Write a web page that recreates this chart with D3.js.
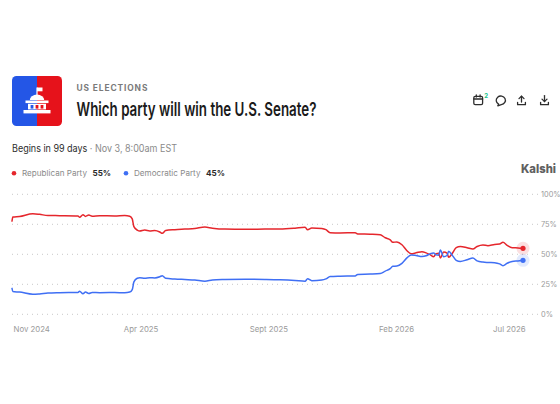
<!DOCTYPE html>
<html>
<head>
<meta charset="utf-8">
<script src="https://cdn.jsdelivr.net/npm/d3@7"></script>
<style>
  html, body { margin: 0; padding: 0; background: #fff; }
  svg { display: block; }
  text { font-family: Inter, "Noto Sans", sans-serif; }
</style>
</head>
<body>
<svg id="chart" width="560" height="404"></svg>
<script>
// ---------------- DATA ----------------
const dates = [
  "2024-10-29","2024-10-30","2024-11-07","2024-11-23","2024-12-01","2024-12-11","2024-12-25","2025-01-16","2025-01-18","2025-01-22",
  "2025-01-25","2025-01-29","2025-02-02","2025-02-11","2025-03-01","2025-03-13","2025-03-19","2025-03-22","2025-03-24","2025-03-28",
  "2025-03-31","2025-04-06","2025-04-12","2025-04-18","2025-04-24","2025-04-27","2025-05-01","2025-05-12","2025-05-24","2025-06-05",
  "2025-06-17","2025-06-26","2025-07-11","2025-08-04","2025-08-28","2025-09-15","2025-10-03","2025-10-15","2025-10-18","2025-10-23",
  "2025-11-04","2025-11-09","2025-11-14","2025-11-26","2025-12-14","2025-12-17","2026-01-01","2026-01-13","2026-01-19","2026-01-25",
  "2026-01-28","2026-02-02","2026-02-08","2026-02-14","2026-02-19","2026-02-25","2026-03-04","2026-03-09","2026-03-14","2026-03-18",
  "2026-03-21","2026-03-24","2026-03-26","2026-03-30","2026-04-03","2026-04-05","2026-04-09","2026-04-14","2026-04-19","2026-04-27",
  "2026-05-04","2026-05-09","2026-05-16","2026-05-22","2026-05-30","2026-06-05","2026-06-09","2026-06-14","2026-06-20","2026-06-27",
  "2026-07-03"
];
const republican = [
  77.7,81,81.5,83.8,83.3,82.3,82.2,82.0,80.8,83.0,
  81.6,82.7,81.8,82.2,82.0,82.3,81.7,79.5,73,70.2,
  69.4,70.2,69.5,69.8,68.6,67.5,69.8,70.5,71,71.5,
  72.7,71.8,71,70.8,71,71.1,71.8,72.5,70.5,72,
  71.5,70.5,68,67.8,68,67,66.7,66.2,63.8,62,
  60,60.3,58,53,50.5,51.2,52.2,51.2,49.5,48,
  50.5,50.8,47,52,51,47.5,50.5,55.5,56.5,55.5,
  54.4,56.5,57.8,57.2,58.2,58.5,60,57.5,55.5,55.3,
  55
];
const democratic = [
  21.6,19,18.5,16.7,17,17.7,18,18.2,19.3,17.2,
  18.5,17.4,18.2,18,18.1,18,18.5,20.5,27,30,
  30.5,30,30.5,30.3,31.3,32.2,30,29.4,29,28.6,
  27.6,28.5,29,29.3,29.1,28.8,28.2,27.6,29.6,28,
  28.5,29.5,31.5,31.8,32,33.2,33.5,34,36,38,
  40,40.2,42.5,47,49.5,49,48.2,48.8,50.5,51,
  49.5,49.2,53.5,48,49,52.5,49.5,45,44,45.5,
  47,44.5,43.5,43.2,43,42,40.5,42.5,44,44.5,
  45
];
const seriesNames = ["Republican Party", "Democratic Party"];
const seriesColors = ["#e5262c", "#3f6ff4"];
const currentValues = ["55%", "45%"];
const xTickDates = ["2024-11-01","2025-04-01","2025-09-01","2026-02-01","2026-07-01"];
const xTickLabels = ["Nov 2024","Apr 2025","Sept 2025","Feb 2026","Jul 2026"];
const yTicks = [0, 25, 50, 75, 100];

// ---------------- SETUP ----------------
const parse = d3.utcParse("%Y-%m-%d");
const svg = d3.select("#chart");
svg.append("rect").attr("width", 560).attr("height", 404).attr("fill", "#fff");

const x = d3.scaleUtc()
  .domain(d3.extent(dates, parse))
  .range([12, 523]);
const y = d3.scaleLinear().domain([0, 100]).range([314.3, 194.3]);

// ---------------- HEADER ----------------
const icon = svg.append("g").attr("transform", "translate(12,76)");
const clipId = "iconclip";
icon.append("clipPath").attr("id", clipId)
  .append("rect").attr("width", 50).attr("height", 50).attr("rx", 4.5);
const ig = icon.append("g").attr("clip-path", `url(#${clipId})`);
ig.append("rect").attr("x", 0).attr("y", 0).attr("width", 25).attr("height", 50).attr("fill", "#2456e6");
ig.append("rect").attr("x", 25).attr("y", 0).attr("width", 25).attr("height", 50).attr("fill", "#e6121b");
// capitol building
const cap = icon.append("g").attr("fill", "#fff");
cap.append("rect").attr("x", 24.4).attr("y", 11.5).attr("width", 1.2).attr("height", 8);
cap.append("rect").attr("x", 25).attr("y", 11.5).attr("width", 5.5).attr("height", 3.8);
cap.append("path").attr("d", "M17.8,24 A7.2,5.4 0 0,1 32.2,24 Z");
cap.append("rect").attr("x", 13.5).attr("y", 24.5).attr("width", 23).attr("height", 2.6);
cap.append("rect").attr("x", 16).attr("y", 27.8).attr("width", 18).attr("height", 5.6);
cap.append("rect").attr("x", 11.5).attr("y", 34).attr("width", 27).attr("height", 3.4);
const win = icon.append("g");
[18.6, 23.6, 28.6].forEach((wx, i) => {
  win.append("rect").attr("x", wx).attr("y", 29).attr("width", 2.8).attr("height", 3.6)
    .attr("fill", wx + 1.4 < 25 ? "#2456e6" : "#e6121b");
});

svg.append("text").attr("x", 76.5).attr("y", 90.8)
  .attr("font-size", 8.4).attr("font-weight", 700).attr("letter-spacing", 0.9)
  .attr("fill", "#7a7a7a").text("US ELECTIONS");

svg.append("text").attr("x", 76.5).attr("y", 115.5)
  .attr("font-size", 19).attr("font-weight", 600).attr("fill", "#1b1b1b")
  .attr("textLength", 240).attr("lengthAdjust", "spacingAndGlyphs")
  .text("Which party will win the U.S. Senate?");

// top-right icons
const ic = svg.append("g").attr("fill", "none").attr("stroke", "#2d2d2d")
  .attr("stroke-width", 1.3).attr("stroke-linecap", "round").attr("stroke-linejoin", "round");
ic.append("rect").attr("x", 473.8).attr("y", 96.3).attr("width", 8.8).attr("height", 8.4).attr("rx", 1.4);
ic.append("line").attr("x1", 473.8).attr("x2", 482.6).attr("y1", 99).attr("y2", 99);
ic.append("line").attr("x1", 476.3).attr("x2", 476.3).attr("y1", 95).attr("y2", 97);
ic.append("line").attr("x1", 480.1).attr("x2", 480.1).attr("y1", 95).attr("y2", 97);
svg.append("text").attr("x", 484.2).attr("y", 97.5).attr("font-size", 6).attr("font-weight", 700)
  .attr("fill", "#19c28b").text("2");
ic.append("path").attr("d", "M498.6,104.1 A4.6,4.3 0 1,1 501.3,104.6 L497.8,105.8 Z");
ic.append("line").attr("x1", 521.5).attr("x2", 521.5).attr("y1", 96.2).attr("y2", 102);
ic.append("polyline").attr("points", "519,98.6 521.5,96.1 524,98.6");
ic.append("polyline").attr("points", "517.6,102.3 517.6,104.7 525.4,104.7 525.4,102.3");
ic.append("line").attr("x1", 544.5).attr("x2", 544.5).attr("y1", 95.6).attr("y2", 101.6);
ic.append("polyline").attr("points", "542,99.1 544.5,101.6 547,99.1");
ic.append("polyline").attr("points", "540.6,102.3 540.6,104.7 548.4,104.7 548.4,102.3");

// subtitle
const sub = svg.append("text").attr("x", 12).attr("y", 151.8).attr("font-size", 9.8)
  .attr("textLength", 165).attr("lengthAdjust", "spacingAndGlyphs");
sub.append("tspan").attr("fill", "#2b2b2b").text("Begins in 99 days");
sub.append("tspan").attr("fill", "#8a8a8a").text(" · Nov 3, 8:00am EST");

// legend
const legX = [14, 126];
seriesNames.forEach((name, i) => {
  const g = svg.append("g");
  g.append("circle").attr("cx", legX[i]).attr("cy", 173.2).attr("r", 2.3).attr("fill", seriesColors[i]);
  const t = g.append("text").attr("x", legX[i] + 8).attr("y", 176.1).attr("font-size", 8.1);
  t.append("tspan").attr("fill", "#8a8a8a").text(name);
  t.append("tspan").attr("dx", 5.5).attr("fill", "#2b2b2b").attr("font-weight", 700).text(currentValues[i]);
});

// Kalshi wordmark
svg.append("text").attr("x", 556).attr("y", 173.4).attr("text-anchor", "end")
  .attr("font-size", 12).attr("font-weight", 800).attr("fill", "#606060")
  .attr("textLength", 35).attr("lengthAdjust", "spacingAndGlyphs").text("Kalshi");

// ---------------- CHART ----------------
// gridlines
svg.append("g").selectAll("line").data(yTicks).join("line")
  .attr("x1", 12).attr("x2", 538)
  .attr("y1", d => y(d)).attr("y2", d => y(d))
  .attr("stroke", "#c8c8c8").attr("stroke-width", 1)
  .attr("stroke-dasharray", "1,4");

// right axis labels
const yAxis = d3.axisRight(y).tickValues(yTicks).tickFormat(d => d + "%").tickSize(0).tickPadding(0);
const ya = svg.append("g").attr("transform", "translate(541,0)").call(yAxis);
ya.select(".domain").remove();
ya.selectAll("text").attr("font-size", 7.4).attr("fill", "#9a9a9a")
  .attr("font-family", "Inter, 'Noto Sans', sans-serif");

// bottom axis labels
const xAxis = d3.axisBottom(x).tickValues(xTickDates.map(parse))
  .tickFormat((d, i) => xTickLabels[i]).tickSize(0).tickPadding(0);
const xa = svg.append("g").attr("transform", "translate(0,326.5)").call(xAxis);
xa.select(".domain").remove();
const nT = xTickDates.length;
xa.selectAll("text").attr("font-size", 7.8).attr("fill", "#9a9a9a")
  .attr("font-family", "Inter, 'Noto Sans', sans-serif")
  .attr("text-anchor", (d, i) => i === 0 ? "start" : (i === nT - 1 ? "end" : "middle"))
  .attr("dx", (d, i) => i === 0 ? (x.range()[0] + 1 - x(d)) : (i === nT - 1 ? (x.range()[1] + 2 - x(d)) : 0));

// lines
const allSeries = [republican, democratic];
const line = d3.line().x((d, i) => x(parse(dates[i]))).y(d => y(d)).curve(d3.curveMonotoneX);
allSeries.forEach((vals, s) => {
  svg.append("path").datum(vals).attr("d", line)
    .attr("fill", "none").attr("stroke", seriesColors[s]).attr("stroke-width", 1.5)
    .attr("stroke-linejoin", "round").attr("stroke-linecap", "round");
});
// end markers
allSeries.forEach((vals, s) => {
  const lx = x(parse(dates[dates.length - 1]));
  const ly = y(vals[vals.length - 1]);
  svg.append("circle").attr("cx", lx).attr("cy", ly).attr("r", 6.5)
    .attr("fill", seriesColors[s]).attr("fill-opacity", 0.15);
  svg.append("circle").attr("cx", lx).attr("cy", ly).attr("r", 2.6).attr("fill", seriesColors[s]);
});
</script>
</body>
</html>
